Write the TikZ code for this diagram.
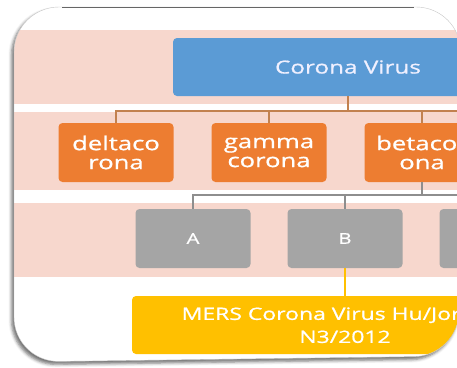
\documentclass[tikz,border=0pt]{standalone}
\usepackage{fontspec}
\setmainfont{Open Sans}[FakeStretch=1.35,FakeBold=0.9]
\usetikzlibrary{shadows.blur}
\definecolor{cvblue}{HTML}{5B9BD5}
\definecolor{cvorange}{HTML}{ED7D31}
\definecolor{cvgray}{HTML}{A5A5A5}
\definecolor{cvyellow}{HTML}{FFC000}
\definecolor{cvpink}{HTML}{F7D7CD}
\definecolor{linebrown}{HTML}{C2814F}
\definecolor{linegray}{HTML}{8E8E8E}
\begin{document}
\begin{tikzpicture}[x=1pt,y=-1pt,
  box/.style={rounded corners=4pt, inner sep=0pt, align=center, text=white},
  bluebox/.style={box, fill=cvblue, minimum width=350pt, minimum height=58pt, font=\fontsize{18}{20}\selectfont, text=blue!6!white},
  orangebox/.style={box, fill=cvorange, minimum width=115pt, minimum height=59pt, font=\fontsize{19}{19}\selectfont},
  graybox/.style={box, fill=cvgray, minimum width=115pt, minimum height=59pt, font=\fontsize{15}{17}\selectfont},
  yellowbox/.style={box, fill=cvyellow, minimum width=426pt, minimum height=58pt, font=\fontsize{17}{23}\selectfont},
  brownline/.style={draw=linebrown, line width=1.2pt},
  grayline/.style={draw=linegray, line width=1.1pt},
  yellowline/.style={draw=cvyellow, line width=1.5pt},
  band/.style={fill=cvpink}
]
\useasboundingbox (0,0) rectangle (457,367);
% frame with shadow
\fill[white, rounded corners=45pt, blur shadow={shadow xshift=-2.5pt, shadow yshift=-3pt, shadow blur radius=3pt, shadow opacity=55}]
  (200,7) -- (461,7) -- (459,356) -- (14,362) -- (14,7) -- cycle;
\begin{scope}
\clip[rounded corners=45pt] (200,7) -- (461,7) -- (459,356) -- (14,362) -- (14,7) -- cycle;
\fill[band] (0,30) rectangle (480,104);
\fill[band] (0,112) rectangle (480,190);
\fill[band] (0,203) rectangle (480,277);
\node[bluebox] (cv) at (348,67) {Corona Virus};
\node[orangebox] (delta) at (116,152.5) {deltaco\\rona};
\node[orangebox] (gamma) at (269,152.5) {gamma\\corona};
\node[orangebox] (beta) at (422,152.5) {betacor\\ona};
\node[graybox] (A) at (193,238.5) {A};
\node[graybox] (B) at (345,238.5) {B};
\node[graybox] (C) at (497,238.5) {};
\node[yellowbox] (mers) at (345,325) {MERS Corona Virus Hu/Jordan-\\N3/2012};
\coordinate (bus1) at (0,111);
\coordinate (bus1end) at (480,111);
\coordinate (bus2) at (0,195);
\draw[brownline] (cv.south) -- (cv.south |- bus1);
\draw[brownline] (delta.north) -- (delta.north |- bus1) -- (bus1end);
\draw[brownline] (gamma.north) -- (gamma.north |- bus1);
\draw[brownline] (beta.north) -- (beta.north |- bus1);
\draw[grayline] (beta.south) -- (beta.south |- bus2);
\draw[grayline] (A.north) -- (A.north |- bus2) -- (C.north |- bus2) -- (C.north);
\draw[grayline] (B.north) -- (B.north |- bus2);
\draw[yellowline] (B.south) -- (mers.north);
\end{scope}
\draw[black!65, line width=0.8pt] (62,7) -- (414,7);
\draw[gray!45, line width=0.4pt, rounded corners=45pt] (200,7) -- (461,7) -- (459,356) -- (14,362) -- (14,7) -- cycle;
\end{tikzpicture}
\end{document}
